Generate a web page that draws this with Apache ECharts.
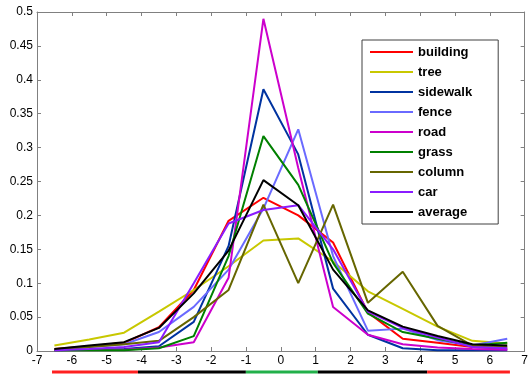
<!DOCTYPE html>
<html><head><meta charset="utf-8">
<script src="https://cdn.jsdelivr.net/npm/echarts@6/dist/echarts.min.js"></script>
<style>html,body{margin:0;padding:0;background:#fff}#c{width:531px;height:374px}</style>
</head><body><div id="c"></div>
<script>
const xs = [-6.5,-5.5,-4.5,-3.5,-2.5,-1.5,-0.5,0.5,1.5,2.5,3.5,4.5,5.5,6.5];
const names = ['building','tree','sidewalk','fence','road','grass','column','car','average'];
const colors = ['#ff0000','#c8c800','#0033a0','#6a6aff','#cc00cc','#008000','#666600','#8a1cff','#000000'];
const building = [0.003,0.007,0.012,0.035,0.09,0.192,0.226,0.2,0.16,0.057,0.018,0.012,0.006,0.003];
const tree     = [0.008,0.017,0.027,0.058,0.09,0.125,0.163,0.166,0.132,0.088,0.062,0.036,0.015,0.011];
const sidewalk = [0.001,0.002,0.003,0.007,0.043,0.155,0.386,0.29,0.092,0.024,0.004,0.001,0.001,0.001];
const fence    = [0.002,0.006,0.01,0.028,0.065,0.12,0.21,0.327,0.14,0.03,0.033,0.016,0.008,0.018];
const road     = [0.001,0.002,0.002,0.005,0.013,0.108,0.49,0.27,0.065,0.024,0.01,0.005,0.003,0.002];
const grass    = [0.001,0.001,0.001,0.004,0.022,0.14,0.317,0.245,0.13,0.055,0.028,0.018,0.008,0.012];
const column   = [0.002,0.006,0.01,0.015,0.05,0.09,0.216,0.1,0.216,0.071,0.117,0.037,0.008,0.006];
const car      = [0.001,0.003,0.006,0.013,0.1,0.188,0.208,0.215,0.15,0.058,0.034,0.02,0.006,0.004];
const average  = [0.003,0.008,0.013,0.034,0.085,0.148,0.252,0.215,0.12,0.06,0.036,0.022,0.01,0.008];
const values = [building,tree,sidewalk,fence,road,grass,column,car,average];
// colored band under the x axis: [start, end, color]
const bandStarts = [-6.57,-4.11,-1.02,1.04,4.17];
const bandEnds   = [-4.11,-1.02,1.04,4.17,6.54];
const bandColors = ['#ff2020','#000000','#22b04a','#000000','#ff2020'];

const axisColor = '#808080';
const font = '"Liberation Sans", Arial, sans-serif';
const series = names.map((n,i)=>({
  name:n, type:'line', xAxisIndex:0, yAxisIndex:0, symbol:'none',
  data: xs.map((x,j)=>[x, values[i][j]]),
  lineStyle:{color:colors[i], width:2}, itemStyle:{color:colors[i]},
  animation:false
}));
bandStarts.forEach((s,i)=>{
  series.push({type:'line', xAxisIndex:2, yAxisIndex:2, symbol:'none', silent:true,
    data:[[s,0.5],[bandEnds[i],0.5]], lineStyle:{color:bandColors[i], width:3}, animation:false});
});
const chart = echarts.init(document.getElementById('c'));
chart.setOption({
  backgroundColor:'#fff',
  animation:false,
  grid:[{left:37,right:5,top:12,bottom:23},{left:37,right:5,top:370,height:4}],
  xAxis:[
    {type:'value',gridIndex:0,min:-7,max:7,interval:1,position:'bottom',
     axisLine:{show:true,onZero:false,lineStyle:{color:axisColor,width:1}},
     axisTick:{show:true,inside:true,length:4,lineStyle:{color:axisColor}},
     axisLabel:{color:'#000',fontSize:12,fontFamily:font,margin:4},
     splitLine:{show:false}},
    {type:'value',gridIndex:0,min:-7,max:7,interval:1,position:'top',
     axisLine:{show:true,onZero:false,lineStyle:{color:axisColor,width:1}},
     axisTick:{show:true,inside:true,length:4,lineStyle:{color:axisColor}},
     axisLabel:{show:false},splitLine:{show:false}},
    {type:'value',gridIndex:1,min:-7,max:7,show:false}
  ],
  yAxis:[
    {type:'value',gridIndex:0,min:0,max:0.5,interval:0.05,position:'left',
     axisLine:{show:true,onZero:false,lineStyle:{color:axisColor,width:1}},
     axisTick:{show:true,inside:true,length:4,lineStyle:{color:axisColor}},
     axisLabel:{color:'#000',fontSize:12,fontFamily:font,margin:4,formatter:v=>String(+v.toFixed(2))},
     splitLine:{show:false}},
    {type:'value',gridIndex:0,min:0,max:0.5,interval:0.05,position:'right',
     axisLine:{show:true,onZero:false,lineStyle:{color:axisColor,width:1}},
     axisTick:{show:true,inside:true,length:4,lineStyle:{color:axisColor}},
     axisLabel:{show:false},splitLine:{show:false}},
    {type:'value',gridIndex:1,min:0,max:1,show:false}
  ],
  legend:{
    data:names, orient:'vertical', left:362, top:40,
    padding:[4,26,4,8], itemGap:4, itemWidth:43, itemHeight:2, icon:'rect',
    borderColor:'#404040', borderWidth:1, backgroundColor:'#fff',
    textStyle:{fontSize:13,fontWeight:'bold',fontFamily:font,color:'#000',lineHeight:16}
  },
  series:series
});
</script></body></html>
